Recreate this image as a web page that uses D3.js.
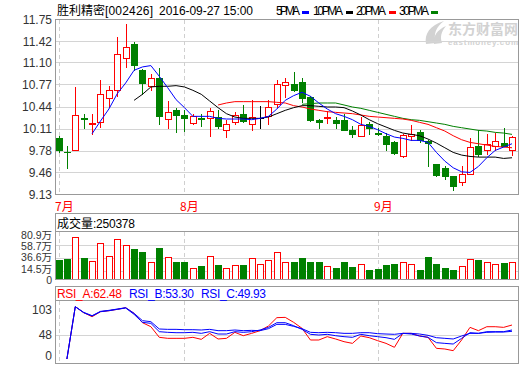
<!DOCTYPE html>
<meta charset="utf-8">
<style>
  body { margin: 0; background: #fff; }
  text { font-family: "Liberation Sans", "Noto Sans CJK SC", sans-serif; font-size: 12px; fill: #333; }
  .grid { stroke: #d4d4d4; shape-rendering: crispEdges; }
  .vline { stroke: #cfcfcf; stroke-dasharray: 4,3; shape-rendering: crispEdges; }
  .frame { fill: none; stroke: #999; shape-rendering: crispEdges; }
  .ma { fill: none; stroke-width: 1px; }
</style>
<svg width="520" height="365"></svg>
<script src="https://cdn.jsdelivr.net/npm/d3@7"></script>
<script>

    // values (55 trading days, Jul - Sep 27 2016)
    var monthLabels = ["7月", "8月", "9月"];
    var monthStart = [0, 15, 38];

    var priceTicks = [11.75, 11.42, 11.10, 10.77, 10.44, 10.11, 9.78, 9.46, 9.13];
    var volTicks = [80.9, 58.7, 36.6, 14.5, 0];
    var rsiTicks = [103, 48, 0];

    var openP  = [9.97, 9.77, 9.80, 10.27, 10.19, 10.22, 10.57, 10.69, 11.18, 11.38,
                  11.00, 10.76, 10.87, 10.26, 10.39, 10.32, 10.20, 10.27, 10.27, 10.29,
                  10.10, 10.22, 10.33, 10.18, 10.27, 10.30, 10.49, 10.77, 10.79, 10.82,
                  10.59, 10.25, 10.27, 10.24, 10.25, 10.09, 10.00, 10.19, 10.05, 10.01,
                  9.92, 9.70, 10.00, 10.07, 9.93, 9.59, 9.52, 9.40, 9.32, 9.44,
                  9.85, 9.80, 9.85, 9.90, 9.80];
    var highP  = [10.01, 9.85, 10.74, 10.34, 10.34, 10.84, 10.76, 11.49, 11.68, 11.41,
                  11.01, 10.94, 11.03, 10.53, 10.42, 10.40, 10.34, 10.33, 10.43, 10.40,
                  10.24, 10.36, 10.47, 10.55, 10.46, 10.54, 10.85, 10.87, 10.96, 10.88,
                  10.60, 10.26, 10.38, 10.29, 10.33, 10.15, 10.29, 10.21, 10.13, 10.05,
                  9.93, 10.03, 10.17, 10.09, 9.95, 9.59, 9.55, 9.41, 9.56, 9.98,
                  10.09, 10.04, 10.05, 10.12, 10.00];
    var lowP   = [9.77, 9.52, 9.80, 10.12, 10.04, 10.14, 10.44, 10.60, 11.04, 11.00,
                  10.63, 10.70, 10.19, 10.13, 10.06, 10.08, 10.19, 10.16, 10.00, 10.13,
                  9.99, 10.19, 10.21, 10.09, 10.12, 10.19, 10.44, 10.59, 10.68, 10.51,
                  10.23, 10.12, 10.20, 10.12, 10.09, 9.99, 10.00, 10.04, 10.02, 9.80,
                  9.73, 9.69, 9.94, 9.91, 9.55, 9.41, 9.36, 9.20, 9.27, 9.43,
                  9.70, 9.73, 9.80, 9.85, 9.72];
    var closeP = [9.79, 9.76, 10.32, 10.26, 10.20, 10.64, 10.70, 11.23, 11.34, 11.07,
                  10.80, 10.88, 10.30, 10.37, 10.32, 10.27, 10.31, 10.26, 10.38, 10.16,
                  10.19, 10.32, 10.23, 10.29, 10.27, 10.44, 10.79, 10.81, 10.69, 10.57,
                  10.24, 10.21, 10.29, 10.20, 10.09, 10.03, 10.17, 10.13, 10.03, 9.89,
                  9.75, 10.02, 10.03, 9.94, 9.90, 9.42, 9.41, 9.26, 9.43, 9.84,
                  9.74, 9.88, 9.93, 9.86, 9.99];

    // volume in 万
    var volume = [33.5, 35.2, 71.5, 36.9, 31.3, 61.5, 39.7, 68.2, 58.1, 52.0,
                  47.0, 29.6, 53.7, 38.0, 30.2, 30.2, 20.1, 23.5, 39.7, 25.2,
                  20.1, 24.6, 25.2, 36.3, 26.3, 33.0, 46.4, 29.6, 30.2, 36.9,
                  30.2, 30.2, 22.9, 20.1, 30.2, 21.8, 26.3, 16.8, 18.4, 25.2,
                  26.8, 29.6, 26.3, 16.8, 38.6, 26.8, 20.1, 16.8, 22.9, 34.7,
                  33.5, 29.6, 26.3, 28.5, 29.6];

    // moving averages as drawn, each starting at its own day
    var ma5Start = 4;
    var ma5 = [10.04, 10.23, 10.41, 10.64, 10.80, 10.99, 11.04, 11.06, 10.90, 10.73,
               10.55, 10.43, 10.30, 10.30, 10.30, 10.27, 10.26, 10.26, 10.26, 10.25,
               10.27, 10.30, 10.41, 10.54, 10.61, 10.66, 10.60, 10.50, 10.41, 10.34,
               10.30, 10.25, 10.18, 10.15, 10.10, 10.04, 9.99, 9.97, 9.94, 9.94,
               9.91, 9.76, 9.63, 9.53, 9.47, 9.46, 9.55, 9.68, 9.79, 9.84, 9.89];
    var ma10Start = 9;
    var ma10 = [10.54, 10.63, 10.74, 10.75, 10.75, 10.76, 10.74, 10.69, 10.63, 10.53,
                10.43, 10.34, 10.29, 10.27, 10.27, 10.27, 10.29, 10.34, 10.39, 10.43,
                10.46, 10.46, 10.45, 10.44, 10.44, 10.43, 10.38, 10.32, 10.25, 10.19,
                10.14, 10.09, 10.05, 10.03, 10.01, 9.96, 9.90, 9.83, 9.76, 9.72,
                9.70, 9.69, 9.69, 9.69, 9.67, 9.68];
    var ma20Start = 19;
    var ma20 = [10.47, 10.50, 10.52, 10.52, 10.52, 10.52, 10.52, 10.51, 10.50, 10.46,
                10.44, 10.41, 10.39, 10.37, 10.36, 10.35, 10.34, 10.32, 10.30, 10.29,
                10.28, 10.27, 10.26, 10.24, 10.21, 10.18, 10.13, 10.08, 10.01, 9.95,
                9.91, 9.89, 9.87, 9.85, 9.84, 9.83];
    var ma30Start = 29;
    var ma30 = [10.48, 10.49, 10.50, 10.50, 10.50, 10.47, 10.44, 10.42, 10.39, 10.36,
                10.33, 10.30, 10.27, 10.25, 10.24, 10.22, 10.20, 10.18, 10.15, 10.13,
                10.11, 10.09, 10.08, 10.06, 10.05, 10.03];

    // RSI lines, from day 1
    var rsiStart = 1;
    var rsiA = [0, 103, 91.2, 83.3, 93.2, 95.1, 97.8, 101, 89.9, 71.5,
                63.6, 42.7, 40.7, 40.7, 40.7, 42.7, 38.7, 50.5, 39.4, 40.7,
                52.5, 45.9, 50.5, 55.8, 65.0, 81.4, 82.0, 72.2, 60.4, 37.4,
                37.4, 44.0, 39.4, 34.1, 30.8, 45.3, 42.0, 36.1, 30.8, 23.0,
                50.5, 50.5, 45.3, 42.7, 21.0, 19.7, 16.4, 37.4, 62.3, 55.8,
                63.6, 63.6, 62.3, 66.9];
    var rsiB = [0, 103, 91.2, 84.6, 93.2, 95.1, 97.8, 100.4, 87.9, 72.2,
                70.2, 53.8, 52.5, 51.8, 51.8, 52.5, 50.5, 53.8, 49.2, 49.2,
                53.8, 52.5, 53.8, 57.1, 62.3, 71.5, 71.5, 65.6, 58.4, 48.6,
                47.2, 48.6, 45.9, 44.0, 42.7, 48.6, 45.9, 44.0, 42.0, 38.7,
                50.5, 49.2, 45.3, 42.7, 32.2, 30.8, 29.5, 40.7, 51.8, 50.5,
                53.8, 53.8, 53.8, 57.1];
    var rsiC = [0, 103, 91.9, 85.3, 93.8, 95.8, 98.4, 101, 89.9, 75.5,
                73.5, 59.1, 58.4, 58.4, 57.7, 57.7, 57.1, 58.4, 55.8, 55.8,
                57.1, 55.8, 56.4, 55.8, 59.7, 68.2, 68.2, 64.3, 59.7, 52.5,
                51.8, 52.5, 51.8, 50.5, 50.5, 51.8, 51.8, 49.9, 49.2, 48.6,
                50.5, 50.5, 49.2, 46.6, 42.0, 40.7, 39.4, 45.3, 50.5, 50.5,
                52.5, 53.1, 53.1, 54.5];

    var RED = "#ff0000", GREEN = "#008000", BLUE = "#0000ff";
    var L = 55.5, R = 518.5;

    var svg = d3.select("svg");

    var x = d3.scaleLinear().domain([0, 54]).range([58.5, 512]);
    var y = d3.scaleLinear().domain([9.13, 11.75]).range([194.5, 19.5]);
    var yVol = d3.scaleLinear().domain([0, 80.9]).range([279.5, 231.5]);
    var yRsi = d3.scaleLinear().domain([0, 103]).range([359, 306.7]);

    function px(i) { return Math.round(x(i)); }
    function colorOf(i) {
        if (closeP[i] > openP[i]) return RED;
        if (closeP[i] < openP[i]) return GREEN;
        return "#000";
    }

    // ---- header ----
    svg.append("text").attr("x", 57).attr("y", 15).style("font-family", "Noto Sans CJK SC").style("fill", "#000").text("胜利精密");
    svg.append("text").attr("x", 105).attr("y", 15).attr("textLength", 48).style("fill", "#000").text("[002426]");
    svg.append("text").attr("x", 159).attr("y", 15).attr("textLength", 94).style("fill", "#000").text("2016-09-27 15:00");

    var legend = [
        {name: "5PMA", x: 276, w: 24, c: BLUE, m: 302},
        {name: "10PMA", x: 313, w: 30, c: "#000", m: 346},
        {name: "20PMA", x: 356, w: 30, c: RED, m: 389},
        {name: "30PMA", x: 399, w: 30, c: GREEN, m: 431}
    ];
    legend.forEach(function(d) {
        svg.append("text").attr("x", d.x).attr("y", 15).attr("textLength", d.w).style("fill", "#000").text(d.name);
        svg.append("rect").attr("x", d.m).attr("y", 11).attr("width", 7).attr("height", 3).attr("fill", d.c);
    });

    // ---- watermark ----
    var wm = svg.append("g").attr("fill", "#d2d2d2");
    wm.append("path").attr("d", "M426,44 C424,34 430,25 444,21 C436,27 433,34 436,43 Z");
    wm.append("path").attr("d", "M434,44 C433,36 437,30 446,26 C441,32 440,37 442,43 Z");
    wm.append("text").attr("x", 448).attr("y", 34).style("font-family", "Noto Sans CJK SC")
        .style("font-size", "14px").style("font-weight", "bold").style("fill", "#d2d2d2").attr("textLength", 70).text("东方财富网");
    wm.append("text").attr("x", 448).attr("y", 45).style("font-size", "8px").style("font-weight", "bold")
        .style("fill", "#d2d2d2").attr("textLength", 70).text("eastmoney.com");

    // ---- price panel ----
    var main = svg.append("g");
    main.selectAll(".pg").data(priceTicks).enter().append("line")
        .attr("class", "grid").attr("x1", L).attr("x2", R)
        .attr("y1", function(d) { return y(d); }).attr("y2", function(d) { return y(d); });
    main.selectAll(".pv").data(monthStart).enter().append("line")
        .attr("class", "vline").attr("y1", 20).attr("y2", 194)
        .attr("x1", function(d) { return px(d) + 0.5; }).attr("x2", function(d) { return px(d) + 0.5; });
    main.selectAll(".pl").data(priceTicks).enter().append("text")
        .attr("x", 52).attr("y", function(d) { return y(d); }).attr("dy", "0.35em")
        .attr("text-anchor", "end").text(function(d) { return d.toFixed(2); });

    // candles
    var days = d3.range(closeP.length);
    var candle = main.append("g").attr("shape-rendering", "crispEdges")
        .selectAll("g").data(days).enter().append("g");
    candle.append("line")
        .attr("x1", function(i) { return px(i) + 0.5; }).attr("x2", function(i) { return px(i) + 0.5; })
        .attr("y1", function(i) { return Math.round(y(highP[i])); })
        .attr("y2", function(i) { return Math.round(y(lowP[i])) + 1; })
        .attr("stroke", colorOf);
    candle.append("rect")
        .attr("x", function(i) { return colorOf(i) === RED ? px(i) - 2.5 : px(i) - 3; })
        .attr("width", function(i) { return colorOf(i) === RED ? 6 : 7; })
        .attr("y", function(i) {
            var t = Math.round(y(Math.max(openP[i], closeP[i])));
            return colorOf(i) === RED ? t + 0.5 : t;
        })
        .attr("height", function(i) {
            var t = Math.round(y(Math.max(openP[i], closeP[i]))), b = Math.round(y(Math.min(openP[i], closeP[i])));
            return colorOf(i) === RED ? Math.max(1, b - t) : Math.max(1, b - t + 1);
        })
        .attr("fill", function(i) { return colorOf(i) === RED ? "#fff" : colorOf(i); })
        .attr("stroke", function(i) { return colorOf(i) === RED ? RED : "none"; });

    // moving averages
    function maLine(vals, start, color) {
        var pts = vals.map(function(v, j) { return [x(start + j), y(v)]; });
        main.append("path").attr("class", "ma").attr("stroke", color).attr("d", d3.line()(pts));
    }
    maLine(ma30, ma30Start, GREEN);
    maLine(ma20, ma20Start, RED);
    maLine(ma10, ma10Start, "#000");
    maLine(ma5, ma5Start, BLUE);

    main.append("rect").attr("class", "frame").attr("x", L).attr("y", 19.5).attr("width", R - L).attr("height", 175);

    // month labels
    svg.selectAll(".ml").data(monthStart).enter().append("text")
        .attr("x", function(d) { return px(d) - 4; }).attr("y", 211)
        .style("fill", RED).style("font-family", "Noto Sans CJK SC")
        .text(function(d, j) { return monthLabels[j]; });

    // ---- volume panel ----
    var vol = svg.append("g");
    vol.selectAll(".vg").data(volTicks.slice(1, 4)).enter().append("line")
        .attr("class", "grid").attr("x1", L).attr("x2", R)
        .attr("y1", function(d) { return Math.round(yVol(d)) + 0.5; }).attr("y2", function(d) { return Math.round(yVol(d)) + 0.5; });
    vol.selectAll(".vv").data(monthStart).enter().append("line")
        .attr("class", "vline").attr("y1", 232).attr("y2", 279)
        .attr("x1", function(d) { return px(d) + 0.5; }).attr("x2", function(d) { return px(d) + 0.5; });
    vol.selectAll(".vb").data(days).enter().append("rect")
        .attr("shape-rendering", "crispEdges")
        .attr("x", function(i) { return colorOf(i) === GREEN ? px(i) - 3 : px(i) - 2.5; })
        .attr("width", function(i) { return colorOf(i) === GREEN ? 7 : 6; })
        .attr("y", function(i) { return Math.round(yVol(volume[i])) + (colorOf(i) === GREEN ? 0 : 0.5); })
        .attr("height", function(i) { return 279.5 - Math.round(yVol(volume[i])) - (colorOf(i) === GREEN ? 0 : 0.5); })
        .attr("fill", function(i) { return colorOf(i) === GREEN ? GREEN : "#fff"; })
        .attr("stroke", function(i) { return colorOf(i) === GREEN ? "none" : RED; });
    // labels evenly stacked beside the panel so they do not collide
    var volLabelY = d3.scalePoint().domain(volTicks).range([235.5, 280]);
    vol.selectAll(".vl").data(volTicks).enter().append("text")
        .attr("x", 52).attr("text-anchor", "end").attr("dy", "0.35em")
        .style("font-size", "10.5px")
        .attr("y", function(d) { return volLabelY(d); })
        .text(function(d) { return d === 0 ? "0" : d.toFixed(1) + "万"; });
    vol.append("rect").attr("class", "frame").attr("x", L).attr("y", 213.5).attr("width", R - L).attr("height", 66);
    vol.append("line").attr("class", "frame").attr("x1", L).attr("x2", R).attr("y1", 231.5).attr("y2", 231.5);
    vol.append("text").attr("x", 57).attr("y", 228).style("fill", "#000").style("font-family", "Noto Sans CJK SC").text("成交量");
    vol.append("text").attr("x", 93).attr("y", 228).attr("textLength", 42).style("fill", "#000").text(":250378");

    // ---- RSI panel ----
    var rsi = svg.append("g");
    rsi.append("line").attr("class", "grid").attr("x1", L).attr("x2", R)
        .attr("y1", Math.round(yRsi(48)) + 0.5).attr("y2", Math.round(yRsi(48)) + 0.5);
    rsi.selectAll(".rv").data(monthStart).enter().append("line")
        .attr("class", "vline").attr("y1", 301).attr("y2", 363)
        .attr("x1", function(d) { return px(d) + 0.5; }).attr("x2", function(d) { return px(d) + 0.5; });
    rsi.selectAll(".rl").data(rsiTicks).enter().append("text")
        .attr("x", 52).attr("text-anchor", "end").attr("dy", "0.35em")
        .attr("y", function(d) { return d === 0 ? 356 : (d === 103 ? 310 : yRsi(d)); })
        .text(function(d) { return d; });

    function rsiLine(vals, color) {
        var pts = vals.map(function(v, j) { return [x(rsiStart + j), yRsi(v)]; });
        rsi.append("path").attr("class", "ma").attr("stroke", color).attr("d", d3.line()(pts));
    }
    rsiLine(rsiA, RED);
    rsiLine(rsiB, BLUE);
    rsiLine(rsiC, BLUE);

    rsi.append("rect").attr("class", "frame").attr("x", L).attr("y", 286.5).attr("width", R - L).attr("height", 77);
    rsi.append("line").attr("class", "frame").attr("x1", L).attr("x2", R).attr("y1", 300.5).attr("y2", 300.5);
    [["RSI_A:62.48", 57, RED], ["RSI_B:53.30", 129, BLUE], ["RSI_C:49.93", 201, BLUE]].forEach(function(d) {
        rsi.append("text").attr("x", d[1]).attr("y", 298).attr("textLength", 65).style("fill", d[2]).text(d[0]);
    });

</script>
